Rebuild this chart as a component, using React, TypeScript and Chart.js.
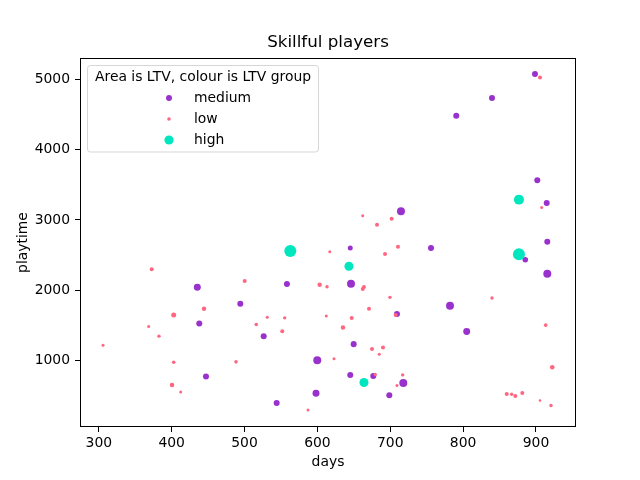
import React, { useEffect, useRef } from 'react';
import { Chart, registerables } from 'chart.js';

Chart.register(...registerables);

// ---- data ----
const mediumDays = [898.6, 839.6, 790.6, 901.8, 714.7, 914.7, 915.5, 645.1, 755.9, 885.3, 915.5, 435.2, 558.2, 646.1, 494.2, 782, 437.9, 526.3, 709.2, 804.9, 599.8, 649.8, 447.1, 544.1, 598.1, 645.1, 676.7, 717.9, 698.7];
const mediumPlaytime = [5081, 4739, 4486, 3567, 3124, 3243, 2690, 2600, 2600, 2433, 2233, 2039, 2086, 2090, 1804, 1776, 1524, 1343, 1657, 1410, 1000, 1229, 767, 390, 529, 790, 776, 676, 500];
const mediumLtv = [18.7, 18.7, 18.7, 18.7, 33, 18.7, 18.7, 13, 18.7, 16, 33, 25, 18.7, 33, 18.7, 33, 18.7, 18.7, 18.7, 25, 33, 18.7, 18.7, 18.7, 25, 18.7, 18.7, 33, 18.7];

const lowDays = [905.5, 907.8, 662.2, 701.9, 681.8, 617, 710.6, 692.8, 372.6, 500.2, 603.1, 613.2, 663.9, 662.2, 699.6, 839.6, 444.4, 670.8, 402.8, 368.5, 382.6, 305.8, 531.2, 555.1, 516.1, 551.8, 612.2, 647.1, 707.4, 635.1, 913.3, 402.8, 488.3, 400.5, 412.4, 587.1, 674.9, 690, 684.9, 622.8, 922.3, 679.4, 717, 709.2, 859.8, 866.6, 871.6, 881.2, 905.5, 920.6];
const lowPlaytime = [5033, 3176, 3061, 3019, 2933, 2545, 2619, 2514, 2296, 2129, 2076, 2047, 2043, 2014, 1896, 1886, 1733, 1733, 1643, 1481, 1343, 1214, 1614, 1604, 1510, 1414, 1629, 1600, 1643, 1467, 1500, 971, 976, 647, 547, 290, 1161, 1181, 1086, 1019, 900, 796, 790, 639, 519, 514, 490, 533, 424, 353];
const lowLtv = [8.3, 4.7, 4.7, 8.3, 8.3, 4.7, 8.3, 8.3, 8.3, 8.3, 10, 6, 8.3, 8.3, 6, 6, 10, 8.3, 13, 4.7, 6, 4.7, 4.7, 6, 6.7, 8.3, 4.7, 8.3, 8.3, 10, 6.7, 6.7, 6.7, 11, 4.7, 4.7, 8.3, 8.3, 4.7, 4.7, 11, 6, 6, 4.7, 8.3, 6, 8.3, 8.3, 3.5, 6];

const highDays = [562.8, 876.6, 643.3, 876.6, 663.9];
const highPlaytime = [2557, 3290, 2339, 2510, 681];
const highLtv = [74.7, 51.8, 42, 74.7, 42];

const xTicks = [300, 400, 500, 600, 700, 800, 900];
const yTicks = [1000, 2000, 3000, 4000, 5000];

const seriesLabels = ['medium', 'low', 'high'];
const titleText = 'Skillful players';
const legendTitle = 'Area is LTV, colour is LTV group';
const xLabel = 'days';
const yLabel = 'playtime';

// ---- styles ----
const FONT = "'DejaVu Sans', sans-serif";
const PURPLE = 'rgb(153, 50, 204)';
const PINK = 'rgb(255, 102, 128)';
const TEAL = 'rgb(0, 230, 190)';
const colors = [PURPLE, PINK, TEAL];
const legendRadius = [3, 1.8, 4.6];

// matplotlib scatter size s (points^2) -> radius in px at 100 dpi
const toRadius = (s: number) => (Math.sqrt(s) / 2) * (100 / 72);

const toPoints = (xs: number[], ys: number[]) => xs.map((x, i) => ({ x, y: ys[i] }));

const decorPlugin = {
  id: 'decor',
  afterDraw(chart: any) {
    const { ctx, chartArea } = chart;
    const { left, right, top, bottom } = chartArea;
    ctx.save();
    // spines
    ctx.strokeStyle = '#000';
    ctx.lineWidth = 1;
    ctx.strokeRect(left + 0.5, top + 0.5, right - left - 1, bottom - top - 1);

    // title
    ctx.fillStyle = '#000';
    ctx.font = `16.7px ${FONT}`;
    ctx.textAlign = 'center';
    ctx.textBaseline = 'middle';
    ctx.fillText(titleText, (left + right) / 2, 43);

    // axis labels
    ctx.font = `13.9px ${FONT}`;
    ctx.fillText(xLabel, (left + right) / 2, 462);
    ctx.save();
    ctx.translate(23, (top + bottom) / 2);
    ctx.rotate(-Math.PI / 2);
    ctx.fillText(yLabel, 0, 0);
    ctx.restore();

    // legend
    const bx = 87.5, by = 65.5, bw = 231, bh = 86.5;
    ctx.beginPath();
    (ctx as any).roundRect(bx, by, bw, bh, 3);
    ctx.fillStyle = 'rgba(255,255,255,0.8)';
    ctx.fill();
    ctx.strokeStyle = 'rgba(204,204,204,0.8)';
    ctx.lineWidth = 1;
    ctx.stroke();

    ctx.fillStyle = '#000';
    ctx.font = `13.9px ${FONT}`;
    ctx.textAlign = 'center';
    ctx.textBaseline = 'middle';
    ctx.fillText(legendTitle, bx + bw / 2, 77);

    const rows = [98, 119, 140];
    seriesLabels.forEach((lab, i) => {
      ctx.beginPath();
      ctx.arc(169, rows[i], legendRadius[i], 0, Math.PI * 2);
      ctx.fillStyle = colors[i];
      ctx.fill();
      ctx.fillStyle = '#000';
      ctx.textAlign = 'left';
      ctx.fillText(lab, 194, rows[i] + 0.5);
    });
    ctx.restore();
  },
};

export default function App() {
  const canvasRef = useRef<HTMLCanvasElement | null>(null);

  useEffect(() => {
    document.body.style.margin = '0';
    const canvas = canvasRef.current;
    if (!canvas) return;

    const ltvs = [mediumLtv, lowLtv, highLtv];
    const datasets = [
      toPoints(mediumDays, mediumPlaytime),
      toPoints(lowDays, lowPlaytime),
      toPoints(highDays, highPlaytime),
    ].map((data, i) => ({
      label: seriesLabels[i],
      data,
      backgroundColor: colors[i],
      borderWidth: 0,
      pointRadius: ltvs[i].map(toRadius),
      pointHoverRadius: ltvs[i].map(toRadius),
      order: 3 - i,
    }));

    const tickFont = { family: FONT, size: 13.9 };

    const chart = new Chart(canvas, {
      type: 'scatter',
      data: { datasets },
      options: {
        responsive: false,
        animation: false,
        devicePixelRatio: 1,
        layout: { padding: { top: 58, right: 64, left: 0, bottom: 0 } },
        plugins: {
          legend: { display: false },
          title: { display: false },
          tooltip: { enabled: false },
        },
        scales: {
          x: {
            type: 'linear',
            min: 274.2,
            max: 954.9,
            afterFit: (s: any) => { s.height = 53; },
            afterBuildTicks: (s: any) => { s.ticks = xTicks.map((v) => ({ value: v })); },
            grid: { display: true, drawOnChartArea: false, drawTicks: true, tickLength: 5, tickColor: '#000', tickWidth: 1 },
            border: { display: false },
            ticks: { color: '#000', font: tickFont, padding: 3, maxRotation: 0, callback: (v: any) => String(v) },
          },
          y: {
            type: 'linear',
            min: 47,
            max: 5310,
            afterFit: (s: any) => { s.width = 80; },
            afterBuildTicks: (s: any) => { s.ticks = yTicks.map((v) => ({ value: v })); },
            grid: { display: true, drawOnChartArea: false, drawTicks: true, tickLength: 5, tickColor: '#000', tickWidth: 1 },
            border: { display: false },
            ticks: { color: '#000', font: tickFont, padding: 5, callback: (v: any) => String(v) },
          },
        },
      },
      plugins: [decorPlugin],
    } as any);

    return () => chart.destroy();
  }, []);

  return (
    <div style={{ width: 640, height: 480, background: '#fff' }}>
      <canvas ref={canvasRef} width={640} height={480} style={{ display: 'block' }} />
    </div>
  );
}
